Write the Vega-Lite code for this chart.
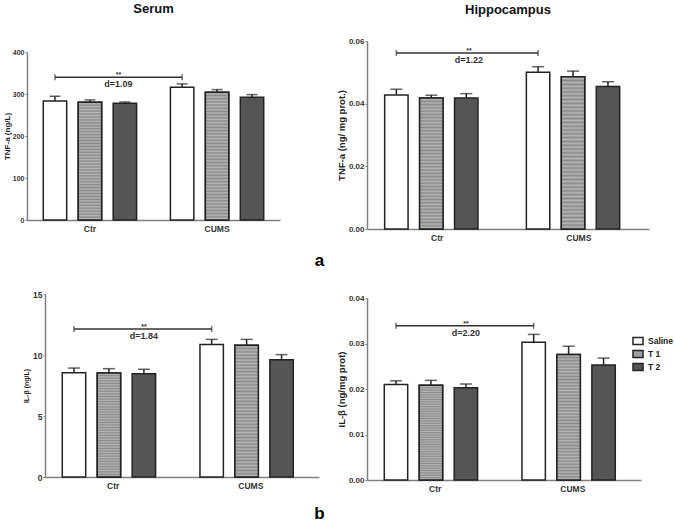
{
  "$schema": "https://vega.github.io/schema/vega-lite/v6.json",
  "padding": {"left": 2, "top": 2, "right": 0, "bottom": 0},
  "background": "#ffffff",
  "datasets": {
    "tnfS": [
      {"group": "Ctr", "trt": "Saline", "mean": 283.6, "upper": 294.7},
      {"group": "Ctr", "trt": "T 1", "mean": 280.4, "upper": 286},
      {"group": "Ctr", "trt": "T 2", "mean": 278, "upper": 281},
      {"group": "CUMS", "trt": "Saline", "mean": 316, "upper": 324},
      {"group": "CUMS", "trt": "T 1", "mean": 304, "upper": 310.5},
      {"group": "CUMS", "trt": "T 2", "mean": 292, "upper": 298.6}
    ],
    "tnfSa": [
      {"group": "Ctr", "trt": "Saline", "y": 340, "star": "**", "d": "d=1.09"},
      {"group": "CUMS", "trt": "Saline", "y": 340, "star": "", "d": ""}
    ],
    "tnfH": [
      {"group": "Ctr", "trt": "Saline", "mean": 0.0428, "upper": 0.0446},
      {"group": "Ctr", "trt": "T 1", "mean": 0.0418, "upper": 0.0427},
      {"group": "Ctr", "trt": "T 2", "mean": 0.0418, "upper": 0.0432},
      {"group": "CUMS", "trt": "Saline", "mean": 0.05, "upper": 0.0518},
      {"group": "CUMS", "trt": "T 1", "mean": 0.0486, "upper": 0.0504},
      {"group": "CUMS", "trt": "T 2", "mean": 0.0455, "upper": 0.047}
    ],
    "tnfHa": [
      {"group": "Ctr", "trt": "Saline", "y": 0.0562, "star": "**", "d": "d=1.22"},
      {"group": "CUMS", "trt": "Saline", "y": 0.0562, "star": "", "d": ""}
    ],
    "ilS": [
      {"group": "Ctr", "trt": "Saline", "mean": 8.55, "upper": 8.93},
      {"group": "Ctr", "trt": "T 1", "mean": 8.52, "upper": 8.88},
      {"group": "Ctr", "trt": "T 2", "mean": 8.47, "upper": 8.83},
      {"group": "CUMS", "trt": "Saline", "mean": 10.87, "upper": 11.28},
      {"group": "CUMS", "trt": "T 1", "mean": 10.79, "upper": 11.28},
      {"group": "CUMS", "trt": "T 2", "mean": 9.62, "upper": 10.03}
    ],
    "ilSa": [
      {"group": "Ctr", "trt": "Saline", "y": 12.13, "star": "**", "d": "d=1.84"},
      {"group": "CUMS", "trt": "Saline", "y": 12.13, "star": "", "d": ""}
    ],
    "ilH": [
      {"group": "Ctr", "trt": "Saline", "mean": 0.021, "upper": 0.0218},
      {"group": "Ctr", "trt": "T 1", "mean": 0.0208, "upper": 0.0219},
      {"group": "Ctr", "trt": "T 2", "mean": 0.0203, "upper": 0.0211},
      {"group": "CUMS", "trt": "Saline", "mean": 0.0303, "upper": 0.032},
      {"group": "CUMS", "trt": "T 1", "mean": 0.0276, "upper": 0.0294},
      {"group": "CUMS", "trt": "T 2", "mean": 0.0253, "upper": 0.0268}
    ],
    "ilHa": [
      {"group": "Ctr", "trt": "Saline", "y": 0.0339, "star": "**", "d": "d=2.20"},
      {"group": "CUMS", "trt": "Saline", "y": 0.0339, "star": "", "d": ""}
    ],
    "blank": [{"k": 1}]
  },
  "hconcat": [
    {
      "spacing": 0,
      "vconcat": [
        {"width": 1, "height": 1, "data": {"name": "blank"}, "mark": {"type": "point", "size": 0, "opacity": 0}},
        {
          "spacing": 22,
          "vconcat": [
            {
              "spacing": 0,
              "hconcat": [
                {"width": 1, "height": 1, "data": {"name": "blank"}, "mark": {"type": "point", "size": 0, "opacity": 0}},
                {
                  "width": 253, "height": 168,
                  "title": {"text": "Serum", "fontSize": 13, "fontWeight": "bold", "offset": 32, "anchor": "middle", "frame": "group", "color": "#111"},
                  "layer": [
                    {"data": {"name": "tnfS"}, "mark": {"type": "bar", "stroke": "#222", "strokeWidth": 1.5},
                     "encoding": {
                       "x": {"field": "group", "type": "nominal", "sort": ["Ctr", "CUMS"], "scale": {"domain": ["Ctr", "CUMS"], "paddingInner": 0.2, "paddingOuter": 0.095},
                             "axis": {"title": "a", "titleX": 292, "titleY": 45, "titleAngle": 0, "titleAlign": "center", "titleBaseline": "alphabetic", "titleFontSize": 17, "titleFontWeight": "bold", "titleColor": "#000"}},
                       "xOffset": {"field": "trt", "type": "nominal", "sort": ["Saline", "T 1", "T 2"], "scale": {"paddingInner": 0.33, "paddingOuter": 0.12}},
                       "y": {"field": "mean", "type": "quantitative", "scale": {"domain": [0, 400], "nice": false}, "axis": {"title": "TNF-a (ng/L)", "titleFontSize": 8, "titlePadding": 1, "labelFontSize": 7, "values": [0, 100, 200, 300, 400]}},
                       "fill": {"field": "trt", "type": "nominal", "scale": {"domain": ["Saline", "T 1", "T 2"], "range": ["#ffffff", "#a0a0a0", "#555555"]}}
                     }},
                    {"data": {"name": "tnfS"}, "transform": [{"filter": "datum.trt == 'T 1'"}],
                     "mark": {"type": "bar", "stroke": "#222", "strokeWidth": 1.5, "fill": {"gradient": "linear", "x1": 0, "y1": 0, "x2": 0, "y2": 1, "stops": [
                       {"offset": 0, "color": "#8a8a8a"}, {"offset": 0.0125, "color": "#b5b5b5"}, {"offset": 0.025, "color": "#8a8a8a"}, {"offset": 0.0375, "color": "#b5b5b5"},
                       {"offset": 0.05, "color": "#8a8a8a"}, {"offset": 0.0625, "color": "#b5b5b5"}, {"offset": 0.075, "color": "#8a8a8a"}, {"offset": 0.0875, "color": "#b5b5b5"},
                       {"offset": 0.1, "color": "#8a8a8a"}, {"offset": 0.1125, "color": "#b5b5b5"}, {"offset": 0.125, "color": "#8a8a8a"}, {"offset": 0.1375, "color": "#b5b5b5"},
                       {"offset": 0.15, "color": "#8a8a8a"}, {"offset": 0.1625, "color": "#b5b5b5"}, {"offset": 0.175, "color": "#8a8a8a"}, {"offset": 0.1875, "color": "#b5b5b5"},
                       {"offset": 0.2, "color": "#8a8a8a"}, {"offset": 0.2125, "color": "#b5b5b5"}, {"offset": 0.225, "color": "#8a8a8a"}, {"offset": 0.2375, "color": "#b5b5b5"},
                       {"offset": 0.25, "color": "#8a8a8a"}, {"offset": 0.2625, "color": "#b5b5b5"}, {"offset": 0.275, "color": "#8a8a8a"}, {"offset": 0.2875, "color": "#b5b5b5"},
                       {"offset": 0.3, "color": "#8a8a8a"}, {"offset": 0.3125, "color": "#b5b5b5"}, {"offset": 0.325, "color": "#8a8a8a"}, {"offset": 0.3375, "color": "#b5b5b5"},
                       {"offset": 0.35, "color": "#8a8a8a"}, {"offset": 0.3625, "color": "#b5b5b5"}, {"offset": 0.375, "color": "#8a8a8a"}, {"offset": 0.3875, "color": "#b5b5b5"},
                       {"offset": 0.4, "color": "#8a8a8a"}, {"offset": 0.4125, "color": "#b5b5b5"}, {"offset": 0.425, "color": "#8a8a8a"}, {"offset": 0.4375, "color": "#b5b5b5"},
                       {"offset": 0.45, "color": "#8a8a8a"}, {"offset": 0.4625, "color": "#b5b5b5"}, {"offset": 0.475, "color": "#8a8a8a"}, {"offset": 0.4875, "color": "#b5b5b5"},
                       {"offset": 0.5, "color": "#8a8a8a"}, {"offset": 0.5125, "color": "#b5b5b5"}, {"offset": 0.525, "color": "#8a8a8a"}, {"offset": 0.5375, "color": "#b5b5b5"},
                       {"offset": 0.55, "color": "#8a8a8a"}, {"offset": 0.5625, "color": "#b5b5b5"}, {"offset": 0.575, "color": "#8a8a8a"}, {"offset": 0.5875, "color": "#b5b5b5"},
                       {"offset": 0.6, "color": "#8a8a8a"}, {"offset": 0.6125, "color": "#b5b5b5"}, {"offset": 0.625, "color": "#8a8a8a"}, {"offset": 0.6375, "color": "#b5b5b5"},
                       {"offset": 0.65, "color": "#8a8a8a"}, {"offset": 0.6625, "color": "#b5b5b5"}, {"offset": 0.675, "color": "#8a8a8a"}, {"offset": 0.6875, "color": "#b5b5b5"},
                       {"offset": 0.7, "color": "#8a8a8a"}, {"offset": 0.7125, "color": "#b5b5b5"}, {"offset": 0.725, "color": "#8a8a8a"}, {"offset": 0.7375, "color": "#b5b5b5"},
                       {"offset": 0.75, "color": "#8a8a8a"}, {"offset": 0.7625, "color": "#b5b5b5"}, {"offset": 0.775, "color": "#8a8a8a"}, {"offset": 0.7875, "color": "#b5b5b5"},
                       {"offset": 0.8, "color": "#8a8a8a"}, {"offset": 0.8125, "color": "#b5b5b5"}, {"offset": 0.825, "color": "#8a8a8a"}, {"offset": 0.8375, "color": "#b5b5b5"},
                       {"offset": 0.85, "color": "#8a8a8a"}, {"offset": 0.8625, "color": "#b5b5b5"}, {"offset": 0.875, "color": "#8a8a8a"}, {"offset": 0.8875, "color": "#b5b5b5"},
                       {"offset": 0.9, "color": "#8a8a8a"}, {"offset": 0.9125, "color": "#b5b5b5"}, {"offset": 0.925, "color": "#8a8a8a"}, {"offset": 0.9375, "color": "#b5b5b5"},
                       {"offset": 0.95, "color": "#8a8a8a"}, {"offset": 0.9625, "color": "#b5b5b5"}, {"offset": 0.975, "color": "#8a8a8a"}, {"offset": 0.9875, "color": "#b5b5b5"},
                       {"offset": 1, "color": "#8a8a8a"}]}},
                     "encoding": {"x": {"field": "group", "type": "nominal", "sort": ["Ctr", "CUMS"]}, "xOffset": {"field": "trt", "type": "nominal", "sort": ["Saline", "T 1", "T 2"]}, "y": {"field": "mean", "type": "quantitative"}}},
                    {"data": {"name": "tnfS"}, "mark": {"type": "rule", "color": "#222", "strokeWidth": 1.5},
                     "encoding": {"x": {"field": "group", "type": "nominal", "sort": ["Ctr", "CUMS"]}, "xOffset": {"field": "trt", "type": "nominal", "sort": ["Saline", "T 1", "T 2"]}, "y": {"field": "mean", "type": "quantitative"}, "y2": {"field": "upper"}}},
                    {"data": {"name": "tnfS"}, "mark": {"type": "tick", "orient": "horizontal", "color": "#222", "thickness": 1.5, "size": 11},
                     "encoding": {"x": {"field": "group", "type": "nominal", "sort": ["Ctr", "CUMS"]}, "xOffset": {"field": "trt", "type": "nominal", "sort": ["Saline", "T 1", "T 2"]}, "y": {"field": "upper", "type": "quantitative"}}},
                    {"data": {"name": "tnfSa"}, "mark": {"type": "line", "color": "#333", "strokeWidth": 1.5},
                     "encoding": {"x": {"field": "group", "type": "nominal", "sort": ["Ctr", "CUMS"]}, "xOffset": {"field": "trt", "type": "nominal", "sort": ["Saline", "T 1", "T 2"]}, "y": {"field": "y", "type": "quantitative"}}},
                    {"data": {"name": "tnfSa"}, "mark": {"type": "tick", "orient": "vertical", "color": "#333", "thickness": 1.5, "size": 6},
                     "encoding": {"x": {"field": "group", "type": "nominal", "sort": ["Ctr", "CUMS"]}, "xOffset": {"field": "trt", "type": "nominal", "sort": ["Saline", "T 1", "T 2"]}, "y": {"field": "y", "type": "quantitative"}}},
                    {"data": {"name": "tnfSa"}, "transform": [{"filter": "datum.group == 'Ctr'"}],
                     "mark": {"type": "text", "fontWeight": "bold", "fontSize": 7, "baseline": "alphabetic", "color": "#333"},
                     "encoding": {"x": {"field": "group", "type": "nominal", "sort": ["Ctr", "CUMS"], "bandPosition": 0.78}, "y": {"field": "y", "type": "quantitative"}, "text": {"field": "star"}}},
                    {"data": {"name": "tnfSa"}, "transform": [{"filter": "datum.group == 'Ctr'"}],
                     "mark": {"type": "text", "fontWeight": "bold", "fontSize": 9, "baseline": "top", "dy": 3, "color": "#333"},
                     "encoding": {"x": {"field": "group", "type": "nominal", "sort": ["Ctr", "CUMS"], "bandPosition": 0.78}, "y": {"field": "y", "type": "quantitative"}, "text": {"field": "d"}}}
                  ]
                }
              ]
            },
            {
              "spacing": 0,
              "hconcat": [
                {"width": 20, "height": 1, "data": {"name": "blank"}, "mark": {"type": "point", "size": 0, "opacity": 0}},
                {
                  "width": 274, "height": 183,
                  "layer": [
                    {"data": {"name": "ilS"}, "mark": {"type": "bar", "stroke": "#222", "strokeWidth": 1.5},
                     "encoding": {
                       "x": {"field": "group", "type": "nominal", "sort": ["Ctr", "CUMS"], "scale": {"domain": ["Ctr", "CUMS"], "paddingInner": 0.2, "paddingOuter": 0.095},
                             "axis": {"title": "b", "titleX": 274, "titleY": 41, "titleAngle": 0, "titleAlign": "center", "titleBaseline": "alphabetic", "titleFontSize": 17, "titleFontWeight": "bold", "titleColor": "#000"}},
                       "xOffset": {"field": "trt", "type": "nominal", "sort": ["Saline", "T 1", "T 2"], "scale": {"paddingInner": 0.33, "paddingOuter": 0.12}},
                       "y": {"field": "mean", "type": "quantitative", "scale": {"domain": [0, 15], "nice": false}, "axis": {"title": "IL-β (ng/L)", "titleFontSize": 7, "titlePadding": 3.5, "labelFontSize": 8.5, "values": [0, 5, 10, 15]}},
                       "fill": {"field": "trt", "type": "nominal"}
                     }},
                    {"data": {"name": "ilS"}, "transform": [{"filter": "datum.trt == 'T 1'"}],
                     "mark": {"type": "bar", "stroke": "#222", "strokeWidth": 1.5, "fill": {"gradient": "linear", "x1": 0, "y1": 0, "x2": 0, "y2": 1, "stops": [
                       {"offset": 0, "color": "#8a8a8a"}, {"offset": 0.0125, "color": "#b5b5b5"}, {"offset": 0.025, "color": "#8a8a8a"}, {"offset": 0.0375, "color": "#b5b5b5"},
                       {"offset": 0.05, "color": "#8a8a8a"}, {"offset": 0.0625, "color": "#b5b5b5"}, {"offset": 0.075, "color": "#8a8a8a"}, {"offset": 0.0875, "color": "#b5b5b5"},
                       {"offset": 0.1, "color": "#8a8a8a"}, {"offset": 0.1125, "color": "#b5b5b5"}, {"offset": 0.125, "color": "#8a8a8a"}, {"offset": 0.1375, "color": "#b5b5b5"},
                       {"offset": 0.15, "color": "#8a8a8a"}, {"offset": 0.1625, "color": "#b5b5b5"}, {"offset": 0.175, "color": "#8a8a8a"}, {"offset": 0.1875, "color": "#b5b5b5"},
                       {"offset": 0.2, "color": "#8a8a8a"}, {"offset": 0.2125, "color": "#b5b5b5"}, {"offset": 0.225, "color": "#8a8a8a"}, {"offset": 0.2375, "color": "#b5b5b5"},
                       {"offset": 0.25, "color": "#8a8a8a"}, {"offset": 0.2625, "color": "#b5b5b5"}, {"offset": 0.275, "color": "#8a8a8a"}, {"offset": 0.2875, "color": "#b5b5b5"},
                       {"offset": 0.3, "color": "#8a8a8a"}, {"offset": 0.3125, "color": "#b5b5b5"}, {"offset": 0.325, "color": "#8a8a8a"}, {"offset": 0.3375, "color": "#b5b5b5"},
                       {"offset": 0.35, "color": "#8a8a8a"}, {"offset": 0.3625, "color": "#b5b5b5"}, {"offset": 0.375, "color": "#8a8a8a"}, {"offset": 0.3875, "color": "#b5b5b5"},
                       {"offset": 0.4, "color": "#8a8a8a"}, {"offset": 0.4125, "color": "#b5b5b5"}, {"offset": 0.425, "color": "#8a8a8a"}, {"offset": 0.4375, "color": "#b5b5b5"},
                       {"offset": 0.45, "color": "#8a8a8a"}, {"offset": 0.4625, "color": "#b5b5b5"}, {"offset": 0.475, "color": "#8a8a8a"}, {"offset": 0.4875, "color": "#b5b5b5"},
                       {"offset": 0.5, "color": "#8a8a8a"}, {"offset": 0.5125, "color": "#b5b5b5"}, {"offset": 0.525, "color": "#8a8a8a"}, {"offset": 0.5375, "color": "#b5b5b5"},
                       {"offset": 0.55, "color": "#8a8a8a"}, {"offset": 0.5625, "color": "#b5b5b5"}, {"offset": 0.575, "color": "#8a8a8a"}, {"offset": 0.5875, "color": "#b5b5b5"},
                       {"offset": 0.6, "color": "#8a8a8a"}, {"offset": 0.6125, "color": "#b5b5b5"}, {"offset": 0.625, "color": "#8a8a8a"}, {"offset": 0.6375, "color": "#b5b5b5"},
                       {"offset": 0.65, "color": "#8a8a8a"}, {"offset": 0.6625, "color": "#b5b5b5"}, {"offset": 0.675, "color": "#8a8a8a"}, {"offset": 0.6875, "color": "#b5b5b5"},
                       {"offset": 0.7, "color": "#8a8a8a"}, {"offset": 0.7125, "color": "#b5b5b5"}, {"offset": 0.725, "color": "#8a8a8a"}, {"offset": 0.7375, "color": "#b5b5b5"},
                       {"offset": 0.75, "color": "#8a8a8a"}, {"offset": 0.7625, "color": "#b5b5b5"}, {"offset": 0.775, "color": "#8a8a8a"}, {"offset": 0.7875, "color": "#b5b5b5"},
                       {"offset": 0.8, "color": "#8a8a8a"}, {"offset": 0.8125, "color": "#b5b5b5"}, {"offset": 0.825, "color": "#8a8a8a"}, {"offset": 0.8375, "color": "#b5b5b5"},
                       {"offset": 0.85, "color": "#8a8a8a"}, {"offset": 0.8625, "color": "#b5b5b5"}, {"offset": 0.875, "color": "#8a8a8a"}, {"offset": 0.8875, "color": "#b5b5b5"},
                       {"offset": 0.9, "color": "#8a8a8a"}, {"offset": 0.9125, "color": "#b5b5b5"}, {"offset": 0.925, "color": "#8a8a8a"}, {"offset": 0.9375, "color": "#b5b5b5"},
                       {"offset": 0.95, "color": "#8a8a8a"}, {"offset": 0.9625, "color": "#b5b5b5"}, {"offset": 0.975, "color": "#8a8a8a"}, {"offset": 0.9875, "color": "#b5b5b5"},
                       {"offset": 1, "color": "#8a8a8a"}]}},
                     "encoding": {"x": {"field": "group", "type": "nominal", "sort": ["Ctr", "CUMS"]}, "xOffset": {"field": "trt", "type": "nominal", "sort": ["Saline", "T 1", "T 2"]}, "y": {"field": "mean", "type": "quantitative"}}},
                    {"data": {"name": "ilS"}, "mark": {"type": "rule", "color": "#222", "strokeWidth": 1.5},
                     "encoding": {"x": {"field": "group", "type": "nominal", "sort": ["Ctr", "CUMS"]}, "xOffset": {"field": "trt", "type": "nominal", "sort": ["Saline", "T 1", "T 2"]}, "y": {"field": "mean", "type": "quantitative"}, "y2": {"field": "upper"}}},
                    {"data": {"name": "ilS"}, "mark": {"type": "tick", "orient": "horizontal", "color": "#222", "thickness": 1.5, "size": 12},
                     "encoding": {"x": {"field": "group", "type": "nominal", "sort": ["Ctr", "CUMS"]}, "xOffset": {"field": "trt", "type": "nominal", "sort": ["Saline", "T 1", "T 2"]}, "y": {"field": "upper", "type": "quantitative"}}},
                    {"data": {"name": "ilSa"}, "mark": {"type": "line", "color": "#333", "strokeWidth": 1.5},
                     "encoding": {"x": {"field": "group", "type": "nominal", "sort": ["Ctr", "CUMS"]}, "xOffset": {"field": "trt", "type": "nominal", "sort": ["Saline", "T 1", "T 2"]}, "y": {"field": "y", "type": "quantitative"}}},
                    {"data": {"name": "ilSa"}, "mark": {"type": "tick", "orient": "vertical", "color": "#333", "thickness": 1.5, "size": 6},
                     "encoding": {"x": {"field": "group", "type": "nominal", "sort": ["Ctr", "CUMS"]}, "xOffset": {"field": "trt", "type": "nominal", "sort": ["Saline", "T 1", "T 2"]}, "y": {"field": "y", "type": "quantitative"}}},
                    {"data": {"name": "ilSa"}, "transform": [{"filter": "datum.group == 'Ctr'"}],
                     "mark": {"type": "text", "fontWeight": "bold", "fontSize": 7, "baseline": "alphabetic", "color": "#333"},
                     "encoding": {"x": {"field": "group", "type": "nominal", "sort": ["Ctr", "CUMS"], "bandPosition": 0.78}, "y": {"field": "y", "type": "quantitative"}, "text": {"field": "star"}}},
                    {"data": {"name": "ilSa"}, "transform": [{"filter": "datum.group == 'Ctr'"}],
                     "mark": {"type": "text", "fontWeight": "bold", "fontSize": 9, "baseline": "top", "dy": 3, "color": "#333"},
                     "encoding": {"x": {"field": "group", "type": "nominal", "sort": ["Ctr", "CUMS"], "bandPosition": 0.78}, "y": {"field": "y", "type": "quantitative"}, "text": {"field": "d"}}}
                  ]
                }
              ]
            }
          ]
        }
      ]
    },
    {
      "spacing": 0,
      "vconcat": [
        {"width": 1, "height": 1, "data": {"name": "blank"}, "mark": {"type": "point", "size": 0, "opacity": 0}},
        {
          "spacing": 52,
          "vconcat": [
            {
              "width": 282, "height": 188,
              "title": {"text": "Hippocampus", "fontSize": 13, "fontWeight": "bold", "offset": 20.5, "anchor": "middle", "frame": "group", "color": "#111"},
              "layer": [
                {"data": {"name": "tnfH"}, "mark": {"type": "bar", "stroke": "#222", "strokeWidth": 1.5},
                 "encoding": {
                   "x": {"field": "group", "type": "nominal", "sort": ["Ctr", "CUMS"], "scale": {"domain": ["Ctr", "CUMS"], "paddingInner": 0.2, "paddingOuter": 0.095}, "axis": {"title": null}},
                   "xOffset": {"field": "trt", "type": "nominal", "sort": ["Saline", "T 1", "T 2"], "scale": {"paddingInner": 0.32, "paddingOuter": 0.12}},
                   "y": {"field": "mean", "type": "quantitative", "scale": {"domain": [0, 0.06], "nice": false}, "axis": {"title": "TNF-a (ng/ mg prot.)", "titleFontSize": 9.5, "labelFontSize": 8, "values": [0, 0.02, 0.04, 0.06], "format": ".2f"}},
                   "fill": {"field": "trt", "type": "nominal"}
                 }},
                {"data": {"name": "tnfH"}, "transform": [{"filter": "datum.trt == 'T 1'"}],
                 "mark": {"type": "bar", "stroke": "#222", "strokeWidth": 1.5, "fill": {"gradient": "linear", "x1": 0, "y1": 0, "x2": 0, "y2": 1, "stops": [
                   {"offset": 0, "color": "#8a8a8a"}, {"offset": 0.0125, "color": "#b5b5b5"}, {"offset": 0.025, "color": "#8a8a8a"}, {"offset": 0.0375, "color": "#b5b5b5"},
                   {"offset": 0.05, "color": "#8a8a8a"}, {"offset": 0.0625, "color": "#b5b5b5"}, {"offset": 0.075, "color": "#8a8a8a"}, {"offset": 0.0875, "color": "#b5b5b5"},
                   {"offset": 0.1, "color": "#8a8a8a"}, {"offset": 0.1125, "color": "#b5b5b5"}, {"offset": 0.125, "color": "#8a8a8a"}, {"offset": 0.1375, "color": "#b5b5b5"},
                   {"offset": 0.15, "color": "#8a8a8a"}, {"offset": 0.1625, "color": "#b5b5b5"}, {"offset": 0.175, "color": "#8a8a8a"}, {"offset": 0.1875, "color": "#b5b5b5"},
                   {"offset": 0.2, "color": "#8a8a8a"}, {"offset": 0.2125, "color": "#b5b5b5"}, {"offset": 0.225, "color": "#8a8a8a"}, {"offset": 0.2375, "color": "#b5b5b5"},
                   {"offset": 0.25, "color": "#8a8a8a"}, {"offset": 0.2625, "color": "#b5b5b5"}, {"offset": 0.275, "color": "#8a8a8a"}, {"offset": 0.2875, "color": "#b5b5b5"},
                   {"offset": 0.3, "color": "#8a8a8a"}, {"offset": 0.3125, "color": "#b5b5b5"}, {"offset": 0.325, "color": "#8a8a8a"}, {"offset": 0.3375, "color": "#b5b5b5"},
                   {"offset": 0.35, "color": "#8a8a8a"}, {"offset": 0.3625, "color": "#b5b5b5"}, {"offset": 0.375, "color": "#8a8a8a"}, {"offset": 0.3875, "color": "#b5b5b5"},
                   {"offset": 0.4, "color": "#8a8a8a"}, {"offset": 0.4125, "color": "#b5b5b5"}, {"offset": 0.425, "color": "#8a8a8a"}, {"offset": 0.4375, "color": "#b5b5b5"},
                   {"offset": 0.45, "color": "#8a8a8a"}, {"offset": 0.4625, "color": "#b5b5b5"}, {"offset": 0.475, "color": "#8a8a8a"}, {"offset": 0.4875, "color": "#b5b5b5"},
                   {"offset": 0.5, "color": "#8a8a8a"}, {"offset": 0.5125, "color": "#b5b5b5"}, {"offset": 0.525, "color": "#8a8a8a"}, {"offset": 0.5375, "color": "#b5b5b5"},
                   {"offset": 0.55, "color": "#8a8a8a"}, {"offset": 0.5625, "color": "#b5b5b5"}, {"offset": 0.575, "color": "#8a8a8a"}, {"offset": 0.5875, "color": "#b5b5b5"},
                   {"offset": 0.6, "color": "#8a8a8a"}, {"offset": 0.6125, "color": "#b5b5b5"}, {"offset": 0.625, "color": "#8a8a8a"}, {"offset": 0.6375, "color": "#b5b5b5"},
                   {"offset": 0.65, "color": "#8a8a8a"}, {"offset": 0.6625, "color": "#b5b5b5"}, {"offset": 0.675, "color": "#8a8a8a"}, {"offset": 0.6875, "color": "#b5b5b5"},
                   {"offset": 0.7, "color": "#8a8a8a"}, {"offset": 0.7125, "color": "#b5b5b5"}, {"offset": 0.725, "color": "#8a8a8a"}, {"offset": 0.7375, "color": "#b5b5b5"},
                   {"offset": 0.75, "color": "#8a8a8a"}, {"offset": 0.7625, "color": "#b5b5b5"}, {"offset": 0.775, "color": "#8a8a8a"}, {"offset": 0.7875, "color": "#b5b5b5"},
                   {"offset": 0.8, "color": "#8a8a8a"}, {"offset": 0.8125, "color": "#b5b5b5"}, {"offset": 0.825, "color": "#8a8a8a"}, {"offset": 0.8375, "color": "#b5b5b5"},
                   {"offset": 0.85, "color": "#8a8a8a"}, {"offset": 0.8625, "color": "#b5b5b5"}, {"offset": 0.875, "color": "#8a8a8a"}, {"offset": 0.8875, "color": "#b5b5b5"},
                   {"offset": 0.9, "color": "#8a8a8a"}, {"offset": 0.9125, "color": "#b5b5b5"}, {"offset": 0.925, "color": "#8a8a8a"}, {"offset": 0.9375, "color": "#b5b5b5"},
                   {"offset": 0.95, "color": "#8a8a8a"}, {"offset": 0.9625, "color": "#b5b5b5"}, {"offset": 0.975, "color": "#8a8a8a"}, {"offset": 0.9875, "color": "#b5b5b5"},
                   {"offset": 1, "color": "#8a8a8a"}]}},
                 "encoding": {"x": {"field": "group", "type": "nominal", "sort": ["Ctr", "CUMS"]}, "xOffset": {"field": "trt", "type": "nominal", "sort": ["Saline", "T 1", "T 2"]}, "y": {"field": "mean", "type": "quantitative"}}},
                {"data": {"name": "tnfH"}, "mark": {"type": "rule", "color": "#222", "strokeWidth": 1.5},
                 "encoding": {"x": {"field": "group", "type": "nominal", "sort": ["Ctr", "CUMS"]}, "xOffset": {"field": "trt", "type": "nominal", "sort": ["Saline", "T 1", "T 2"]}, "y": {"field": "mean", "type": "quantitative"}, "y2": {"field": "upper"}}},
                {"data": {"name": "tnfH"}, "mark": {"type": "tick", "orient": "horizontal", "color": "#222", "thickness": 1.5, "size": 12},
                 "encoding": {"x": {"field": "group", "type": "nominal", "sort": ["Ctr", "CUMS"]}, "xOffset": {"field": "trt", "type": "nominal", "sort": ["Saline", "T 1", "T 2"]}, "y": {"field": "upper", "type": "quantitative"}}},
                {"data": {"name": "tnfHa"}, "mark": {"type": "line", "color": "#333", "strokeWidth": 1.5},
                 "encoding": {"x": {"field": "group", "type": "nominal", "sort": ["Ctr", "CUMS"]}, "xOffset": {"field": "trt", "type": "nominal", "sort": ["Saline", "T 1", "T 2"]}, "y": {"field": "y", "type": "quantitative"}}},
                {"data": {"name": "tnfHa"}, "mark": {"type": "tick", "orient": "vertical", "color": "#333", "thickness": 1.5, "size": 6},
                 "encoding": {"x": {"field": "group", "type": "nominal", "sort": ["Ctr", "CUMS"]}, "xOffset": {"field": "trt", "type": "nominal", "sort": ["Saline", "T 1", "T 2"]}, "y": {"field": "y", "type": "quantitative"}}},
                {"data": {"name": "tnfHa"}, "transform": [{"filter": "datum.group == 'Ctr'"}],
                 "mark": {"type": "text", "fontWeight": "bold", "fontSize": 7, "baseline": "alphabetic", "color": "#333"},
                 "encoding": {"x": {"field": "group", "type": "nominal", "sort": ["Ctr", "CUMS"], "bandPosition": 0.78}, "y": {"field": "y", "type": "quantitative"}, "text": {"field": "star"}}},
                {"data": {"name": "tnfHa"}, "transform": [{"filter": "datum.group == 'Ctr'"}],
                 "mark": {"type": "text", "fontWeight": "bold", "fontSize": 9, "baseline": "top", "dy": 3, "color": "#333"},
                 "encoding": {"x": {"field": "group", "type": "nominal", "sort": ["Ctr", "CUMS"], "bandPosition": 0.78}, "y": {"field": "y", "type": "quantitative"}, "text": {"field": "d"}}}
              ]
            },
            {
              "width": 274, "height": 182,
              "layer": [
                {"data": {"name": "ilH"}, "mark": {"type": "bar", "stroke": "#222", "strokeWidth": 1.5},
                 "encoding": {
                   "x": {"field": "group", "type": "nominal", "sort": ["Ctr", "CUMS"], "scale": {"domain": ["Ctr", "CUMS"], "paddingInner": 0.2, "paddingOuter": 0.095}, "axis": {"title": null}},
                   "xOffset": {"field": "trt", "type": "nominal", "sort": ["Saline", "T 1", "T 2"], "scale": {"paddingInner": 0.33, "paddingOuter": 0.12}},
                   "y": {"field": "mean", "type": "quantitative", "scale": {"domain": [0, 0.04], "nice": false}, "axis": {"title": "IL-β  (ng/mg prot)", "titleFontSize": 9.5, "labelFontSize": 8, "values": [0, 0.01, 0.02, 0.03, 0.04], "format": ".2f"}},
                   "fill": {"field": "trt", "type": "nominal",
                            "legend": {"title": null, "orient": "none", "legendX": 630, "legendY": 333, "symbolType": "M-1,-0.7L1,-0.7L1,0.7L-1,0.7Z", "symbolSize": 100, "symbolStrokeColor": "#111", "symbolStrokeWidth": 1.5, "labelFontSize": 8.5, "labelFontWeight": "bold", "labelColor": "#222", "rowPadding": -5, "labelOffset": 4}}
                 }},
                {"data": {"name": "ilH"}, "transform": [{"filter": "datum.trt == 'T 1'"}],
                 "mark": {"type": "bar", "stroke": "#222", "strokeWidth": 1.5, "fill": {"gradient": "linear", "x1": 0, "y1": 0, "x2": 0, "y2": 1, "stops": [
                   {"offset": 0, "color": "#8a8a8a"}, {"offset": 0.0125, "color": "#b5b5b5"}, {"offset": 0.025, "color": "#8a8a8a"}, {"offset": 0.0375, "color": "#b5b5b5"},
                   {"offset": 0.05, "color": "#8a8a8a"}, {"offset": 0.0625, "color": "#b5b5b5"}, {"offset": 0.075, "color": "#8a8a8a"}, {"offset": 0.0875, "color": "#b5b5b5"},
                   {"offset": 0.1, "color": "#8a8a8a"}, {"offset": 0.1125, "color": "#b5b5b5"}, {"offset": 0.125, "color": "#8a8a8a"}, {"offset": 0.1375, "color": "#b5b5b5"},
                   {"offset": 0.15, "color": "#8a8a8a"}, {"offset": 0.1625, "color": "#b5b5b5"}, {"offset": 0.175, "color": "#8a8a8a"}, {"offset": 0.1875, "color": "#b5b5b5"},
                   {"offset": 0.2, "color": "#8a8a8a"}, {"offset": 0.2125, "color": "#b5b5b5"}, {"offset": 0.225, "color": "#8a8a8a"}, {"offset": 0.2375, "color": "#b5b5b5"},
                   {"offset": 0.25, "color": "#8a8a8a"}, {"offset": 0.2625, "color": "#b5b5b5"}, {"offset": 0.275, "color": "#8a8a8a"}, {"offset": 0.2875, "color": "#b5b5b5"},
                   {"offset": 0.3, "color": "#8a8a8a"}, {"offset": 0.3125, "color": "#b5b5b5"}, {"offset": 0.325, "color": "#8a8a8a"}, {"offset": 0.3375, "color": "#b5b5b5"},
                   {"offset": 0.35, "color": "#8a8a8a"}, {"offset": 0.3625, "color": "#b5b5b5"}, {"offset": 0.375, "color": "#8a8a8a"}, {"offset": 0.3875, "color": "#b5b5b5"},
                   {"offset": 0.4, "color": "#8a8a8a"}, {"offset": 0.4125, "color": "#b5b5b5"}, {"offset": 0.425, "color": "#8a8a8a"}, {"offset": 0.4375, "color": "#b5b5b5"},
                   {"offset": 0.45, "color": "#8a8a8a"}, {"offset": 0.4625, "color": "#b5b5b5"}, {"offset": 0.475, "color": "#8a8a8a"}, {"offset": 0.4875, "color": "#b5b5b5"},
                   {"offset": 0.5, "color": "#8a8a8a"}, {"offset": 0.5125, "color": "#b5b5b5"}, {"offset": 0.525, "color": "#8a8a8a"}, {"offset": 0.5375, "color": "#b5b5b5"},
                   {"offset": 0.55, "color": "#8a8a8a"}, {"offset": 0.5625, "color": "#b5b5b5"}, {"offset": 0.575, "color": "#8a8a8a"}, {"offset": 0.5875, "color": "#b5b5b5"},
                   {"offset": 0.6, "color": "#8a8a8a"}, {"offset": 0.6125, "color": "#b5b5b5"}, {"offset": 0.625, "color": "#8a8a8a"}, {"offset": 0.6375, "color": "#b5b5b5"},
                   {"offset": 0.65, "color": "#8a8a8a"}, {"offset": 0.6625, "color": "#b5b5b5"}, {"offset": 0.675, "color": "#8a8a8a"}, {"offset": 0.6875, "color": "#b5b5b5"},
                   {"offset": 0.7, "color": "#8a8a8a"}, {"offset": 0.7125, "color": "#b5b5b5"}, {"offset": 0.725, "color": "#8a8a8a"}, {"offset": 0.7375, "color": "#b5b5b5"},
                   {"offset": 0.75, "color": "#8a8a8a"}, {"offset": 0.7625, "color": "#b5b5b5"}, {"offset": 0.775, "color": "#8a8a8a"}, {"offset": 0.7875, "color": "#b5b5b5"},
                   {"offset": 0.8, "color": "#8a8a8a"}, {"offset": 0.8125, "color": "#b5b5b5"}, {"offset": 0.825, "color": "#8a8a8a"}, {"offset": 0.8375, "color": "#b5b5b5"},
                   {"offset": 0.85, "color": "#8a8a8a"}, {"offset": 0.8625, "color": "#b5b5b5"}, {"offset": 0.875, "color": "#8a8a8a"}, {"offset": 0.8875, "color": "#b5b5b5"},
                   {"offset": 0.9, "color": "#8a8a8a"}, {"offset": 0.9125, "color": "#b5b5b5"}, {"offset": 0.925, "color": "#8a8a8a"}, {"offset": 0.9375, "color": "#b5b5b5"},
                   {"offset": 0.95, "color": "#8a8a8a"}, {"offset": 0.9625, "color": "#b5b5b5"}, {"offset": 0.975, "color": "#8a8a8a"}, {"offset": 0.9875, "color": "#b5b5b5"},
                   {"offset": 1, "color": "#8a8a8a"}]}},
                 "encoding": {"x": {"field": "group", "type": "nominal", "sort": ["Ctr", "CUMS"]}, "xOffset": {"field": "trt", "type": "nominal", "sort": ["Saline", "T 1", "T 2"]}, "y": {"field": "mean", "type": "quantitative"}}},
                {"data": {"name": "ilH"}, "mark": {"type": "rule", "color": "#222", "strokeWidth": 1.5},
                 "encoding": {"x": {"field": "group", "type": "nominal", "sort": ["Ctr", "CUMS"]}, "xOffset": {"field": "trt", "type": "nominal", "sort": ["Saline", "T 1", "T 2"]}, "y": {"field": "mean", "type": "quantitative"}, "y2": {"field": "upper"}}},
                {"data": {"name": "ilH"}, "mark": {"type": "tick", "orient": "horizontal", "color": "#222", "thickness": 1.5, "size": 12},
                 "encoding": {"x": {"field": "group", "type": "nominal", "sort": ["Ctr", "CUMS"]}, "xOffset": {"field": "trt", "type": "nominal", "sort": ["Saline", "T 1", "T 2"]}, "y": {"field": "upper", "type": "quantitative"}}},
                {"data": {"name": "ilHa"}, "mark": {"type": "line", "color": "#333", "strokeWidth": 1.5},
                 "encoding": {"x": {"field": "group", "type": "nominal", "sort": ["Ctr", "CUMS"]}, "xOffset": {"field": "trt", "type": "nominal", "sort": ["Saline", "T 1", "T 2"]}, "y": {"field": "y", "type": "quantitative"}}},
                {"data": {"name": "ilHa"}, "mark": {"type": "tick", "orient": "vertical", "color": "#333", "thickness": 1.5, "size": 6},
                 "encoding": {"x": {"field": "group", "type": "nominal", "sort": ["Ctr", "CUMS"]}, "xOffset": {"field": "trt", "type": "nominal", "sort": ["Saline", "T 1", "T 2"]}, "y": {"field": "y", "type": "quantitative"}}},
                {"data": {"name": "ilHa"}, "transform": [{"filter": "datum.group == 'Ctr'"}],
                 "mark": {"type": "text", "fontWeight": "bold", "fontSize": 7, "baseline": "alphabetic", "color": "#333"},
                 "encoding": {"x": {"field": "group", "type": "nominal", "sort": ["Ctr", "CUMS"], "bandPosition": 0.78}, "y": {"field": "y", "type": "quantitative"}, "text": {"field": "star"}}},
                {"data": {"name": "ilHa"}, "transform": [{"filter": "datum.group == 'Ctr'"}],
                 "mark": {"type": "text", "fontWeight": "bold", "fontSize": 9, "baseline": "top", "dy": 3, "color": "#333"},
                 "encoding": {"x": {"field": "group", "type": "nominal", "sort": ["Ctr", "CUMS"], "bandPosition": 0.78}, "y": {"field": "y", "type": "quantitative"}, "text": {"field": "d"}}}
              ]
            }
          ]
        }
      ]
    }
  ],
  "spacing": 11,
  "config": {
    "font": "Liberation Sans",
    "view": {"stroke": null},
    "axis": {"domainColor": "#808080", "domainWidth": 1.5, "tickColor": "#808080", "tickWidth": 1, "grid": false, "labelColor": "#333333", "labelFontWeight": "bold", "titleFontWeight": "bold", "titleColor": "#222222"},
    "axisX": {"ticks": false, "labelAngle": 0, "labelFontSize": 8.5, "labelPadding": 4},
    "axisY": {"tickSize": 2, "labelPadding": 1, "titlePadding": 2}
  }
}
